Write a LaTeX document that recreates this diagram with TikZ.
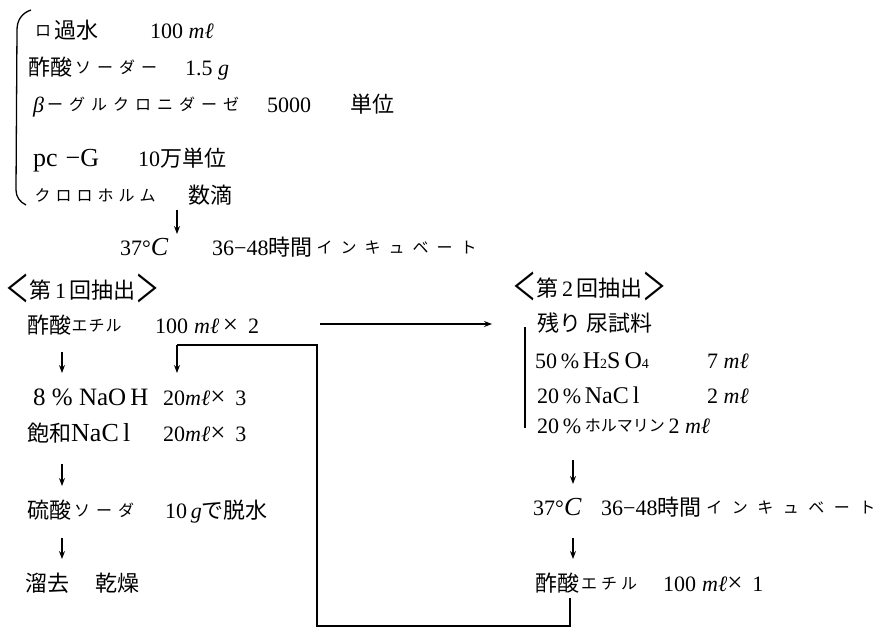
\documentclass[tikz,border=0pt]{standalone}
\usepackage{fontspec}
\setmainfont{Liberation Serif}
\newfontfamily\jp{Noto Sans CJK JP}
\usetikzlibrary{arrows.meta}
\makeatletter
\newcommand\kk[2][22pt]{\def\kk@w{#1}\kk@loop#2\kk@end}
\def\kk@end{\kk@end}
\def\kk@loop#1{\ifx#1\kk@end\else\makebox[\kk@w]{\raisebox{1.5pt}{\jp\fontsize{16}{16}\selectfont #1}}\expandafter\kk@loop\fi}
\makeatother
\newcommand\ml{\textit{m}\textit{ℓ}}
\newcommand\gr{\textit{g}}
\newcommand\bigC{{\itshape\fontsize{26}{26}\selectfont C}}
\newcommand\brl{\raisebox{-4pt}{\scalebox{1.1}[1.7]{\jp ＜}}}
\newcommand\brr{\raisebox{-4pt}{\scalebox{1.1}[1.7]{\jp ＞}}}
\newcommand\sm[1]{{\fontsize{14}{14}\selectfont #1}}
\newcommand\bg[2][26]{{\fontsize{#1}{#1}\selectfont #2}}
\newcommand\tms{{\fontsize{27}{27}\selectfont ×}}
\begin{document}
\begin{tikzpicture}[x=1pt,y=-1pt,
  t/.style={anchor=base west, inner sep=0pt, font=\fontsize{22}{26}\selectfont},
  ln/.style={line width=1.8pt},
  thinln/.style={line width=1.3pt},
  arr/.style={line width=1.2pt, -{Stealth[length=8pt,width=6pt]}}]
\useasboundingbox (0,0) rectangle (883,629);
% top block
\draw[thinln] (31,10) .. controls (22,13) and (17,20) .. (17,30) -- (16,190) .. controls (16,197) and (20,202) .. (26,205);
\node[t] (l1a) at (32,38) {\kk{ロ}{\jp 過水}};
\node[t] (l1b) at (150,38) {100 \ml};
\node[t] (l2a) at (28,75) {{\jp 酢酸}\kk{ソーダー}};
\node[t] (l2b) at (185,75) {1.5 \gr};
\node[t] (l3a) at (33,112) {\textit{β}\kk{ーグルクロニダーゼ}};
\node[t] (l3b) at (267,112) {5000};
\node[t] (l3c) at (350,112) {\jp 単位};
\node[t] (l4a) at (33,166) {\bg{pc\hspace{8pt}−G}};
\node[t] (l4b) at (138,166) {10{\jp 万単位}};
\node[t] (l5a) at (32,203) {\kk[21pt]{クロロホルム}};
\node[t] (l5b) at (188,203) {\jp 数滴};
\coordinate (a0s) at (177,210);
\coordinate (a0e) at (177,234);
\draw[arr] (a0s) -- (a0e);
\node[t] (inc1a) at (120,255) {37°\bigC};
\node[t] (inc1b) at (212,255) {36−48{\jp 時間}\kk[24pt]{インキュベート}};
% first extraction
\node[t] (ex1) at (5,298) {\brl{\jp 第}\,1\,{\jp 回抽出}\brr};
\node[t] (e1a) at (27,333) {{\jp 酢酸}\kk[17pt]{エチル}};
\node[t] (e1b) at (155,333) {100\hspace{6pt}\ml\,\tms\hspace{10pt}2};
\coordinate (a1s) at (62,352);
\coordinate (a1e) at (62,373);
\draw[arr] (a1s) -- (a1e);
\node[t] (n1a) at (33,405) {\bg[25]{8 \% NaO\,H}};
\node[t] (n1b) at (163,405) {20\ml\tms\hspace{10pt}3};
\node[t] (s1a) at (27,441) {{\jp 飽和}\bg{NaC\,l}};
\node[t] (s1b) at (163,441) {20\ml\tms\hspace{10pt}3};
\coordinate (a3s) at (62,464);
\coordinate (a3e) at (62,486);
\draw[arr] (a3s) -- (a3e);
\node[t] (d1a) at (27,518) {{\jp 硫酸}\kk{ソーダ}};
\node[t] (d1b) at (165,518) {10\,\gr{\jp で脱水}};
\coordinate (a4s) at (62,538);
\coordinate (a4e) at (62,559);
\draw[arr] (a4s) -- (a4e);
\node[t] (r1a) at (25,591) {\jp 溜去};
\node[t] (r1b) at (95,591) {\jp 乾燥};
% transfer arrow
\coordinate (h0) at (320,324);
\coordinate (h1) at (492,324);
\draw[arr] (h0) -- (h1);
% second extraction
\node[t] (ex2) at (512,296) {\brl{\jp 第}\,2\,{\jp 回抽出}\brr};
\node[t] (u1) at (537,331) {\jp 残り 尿試料};
\coordinate (b0) at (525,327);
\coordinate (b1) at (525,428);
\draw[thinln] (b0) -- (b1);
\node[t] (h1a) at (535,368) {50\,\%\,\bg[24]{H\sm{2}S\,O\sm{4}}};
\node[t] (h1b) at (707,368) {7 \ml};
\node[t] (c1a) at (537,403) {20\,\%\,\bg[24]{NaC\,l}};
\node[t] (c1b) at (707,403) {2 \ml};
\node[t] (f1) at (537,433) {20\,\%\,\kk[16pt]{ホルマリン}\,2 \ml};
\coordinate (a5s) at (573,460);
\coordinate (a5e) at (573,484);
\draw[arr] (a5s) -- (a5e);
\node[t] (inc2a) at (533,515) {37°\bigC};
\node[t] (inc2b) at (601,515) {36−48{\jp 時間}\kk[25.5pt]{インキュベート}};
\coordinate (a6s) at (573,538);
\coordinate (a6e) at (573,559);
\draw[arr] (a6s) -- (a6e);
\node[t] (e2a) at (535,591) {{\jp 酢酸}\kk[20pt]{エチル}};
\node[t] (e2b) at (663,591) {100\hspace{6pt}\ml\tms\hspace{10pt}1};
% return loop
\coordinate (p1) at (570,598);
\coordinate (p3) at (317,626);
\coordinate (p5) at (177,345);
\coordinate (p6) at (177,373);
\draw[ln] (p1) |- (p3) |- (p5);
\draw[arr] (p5) -- (p6);
\end{tikzpicture}
\end{document}
